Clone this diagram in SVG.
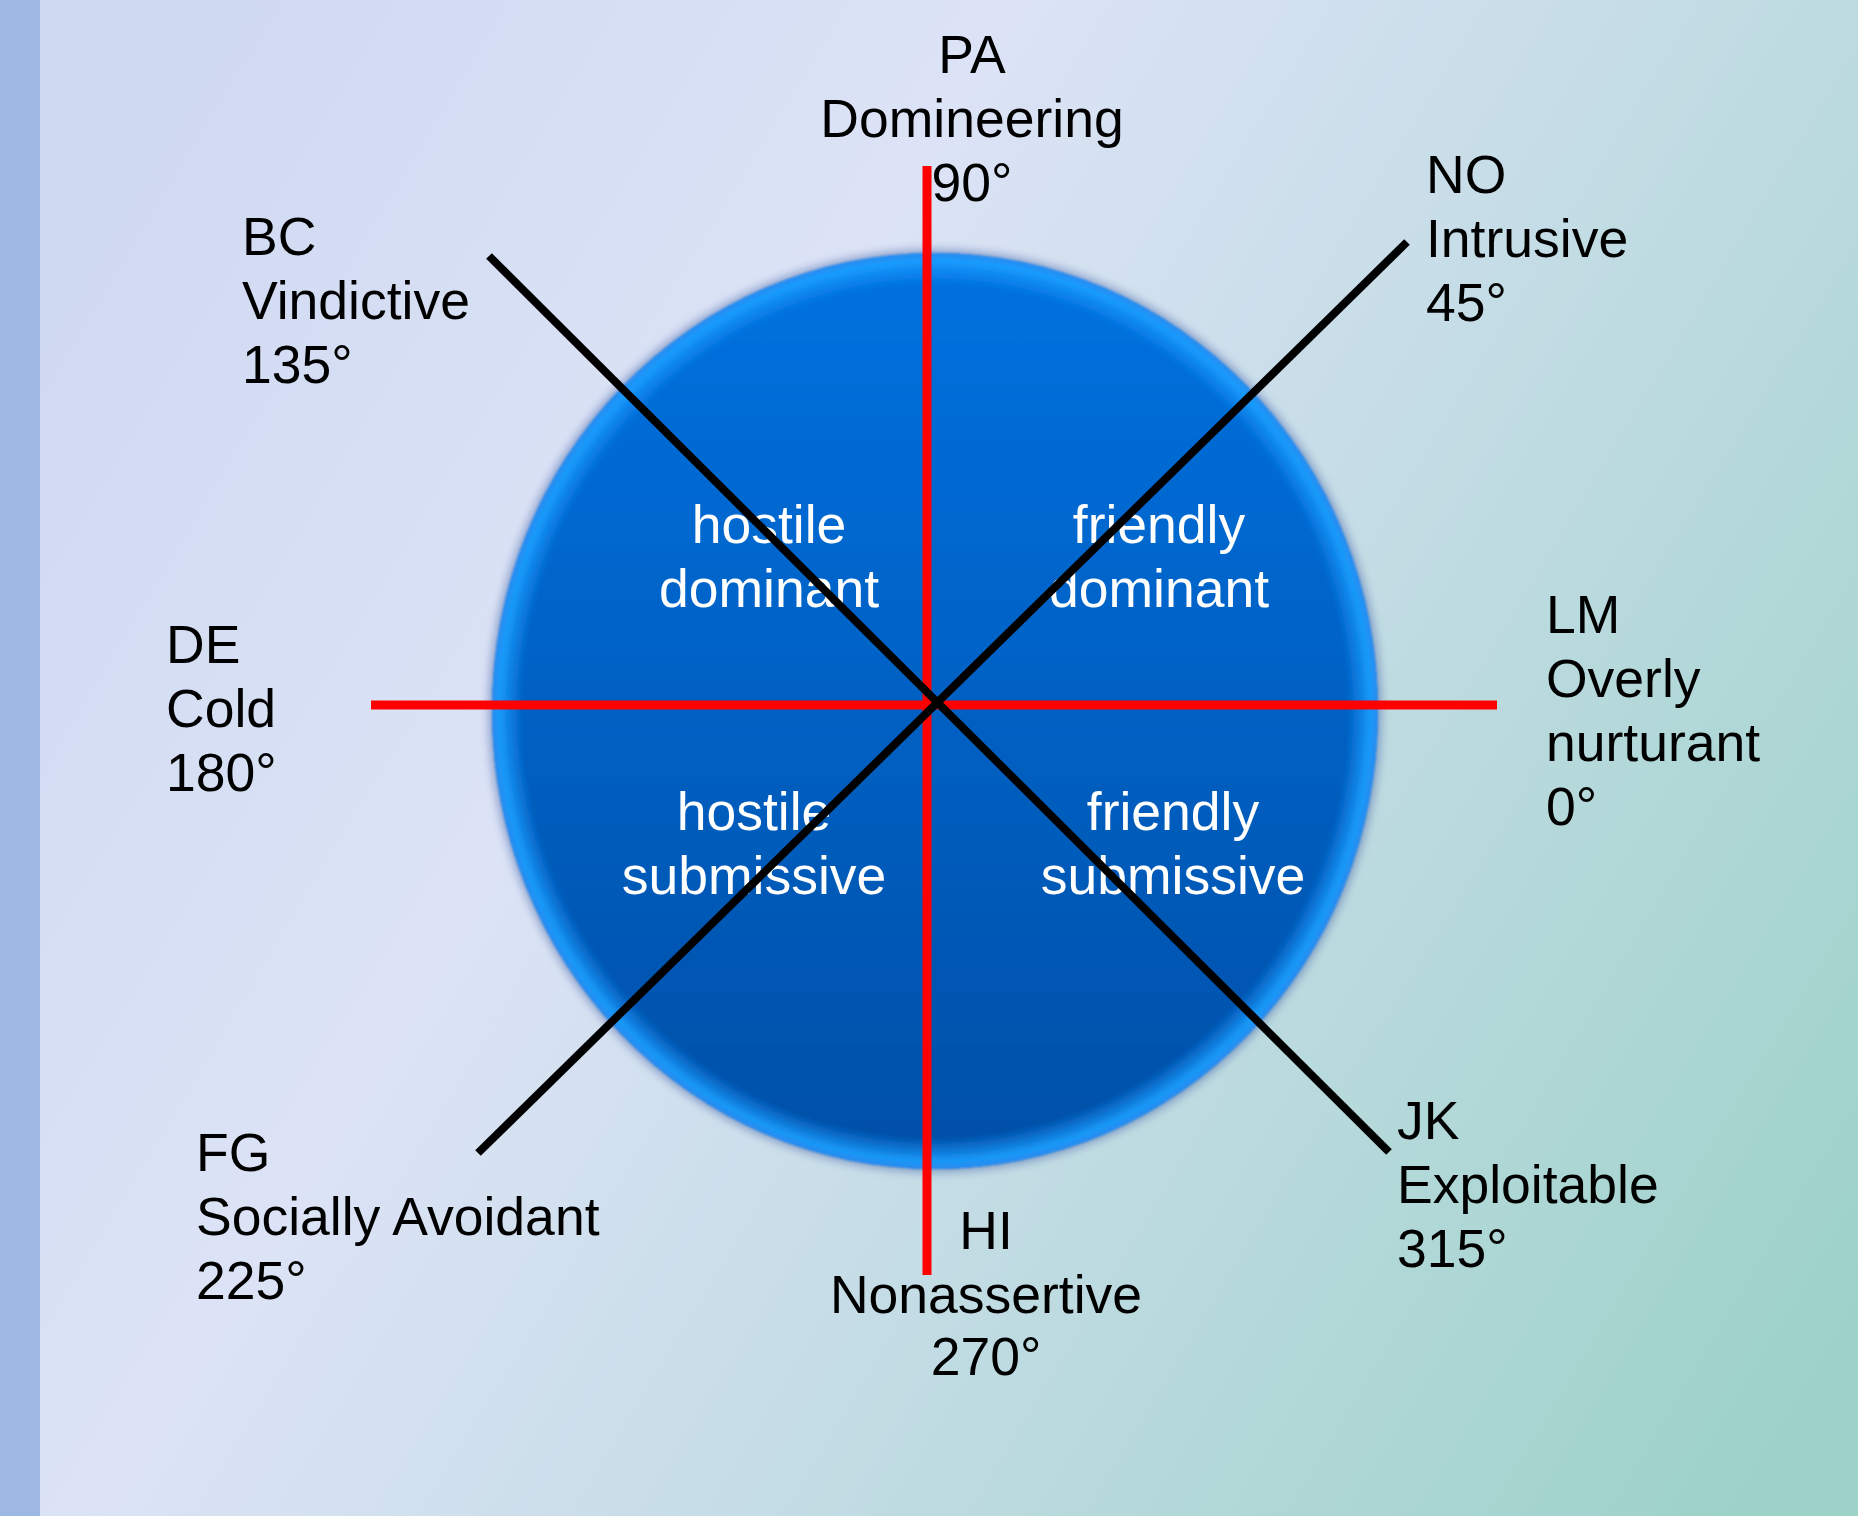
<svg xmlns="http://www.w3.org/2000/svg" width="1858" height="1516" viewBox="0 0 1858 1516">
  <defs>
    <linearGradient id="bg" gradientUnits="userSpaceOnUse" x1="40" y1="250" x2="1858" y2="1350">
      <stop offset="0" stop-color="#CFD9F1"/>
      <stop offset="0.33" stop-color="#DCE3F6"/>
      <stop offset="0.58" stop-color="#C6DDE7"/>
      <stop offset="1" stop-color="#9CD2C8"/>
    </linearGradient>
    <linearGradient id="disc" x1="0" y1="0" x2="0" y2="1">
      <stop offset="0" stop-color="#0072E0"/>
      <stop offset="1" stop-color="#004FA6"/>
    </linearGradient>
    <radialGradient id="rim" cx="0.5" cy="0.5" r="0.5">
      <stop offset="0.93" stop-color="#1A95FF" stop-opacity="0"/>
      <stop offset="0.982" stop-color="#1AA0FF" stop-opacity="0.9"/>
      <stop offset="1" stop-color="#2A8AF0" stop-opacity="1"/>
    </radialGradient>
    <filter id="halo" x="-10%" y="-10%" width="120%" height="120%">
      <feGaussianBlur stdDeviation="4.5"/>
    </filter>
    <filter id="soft" x="-5%" y="-5%" width="110%" height="110%">
      <feGaussianBlur stdDeviation="1.2"/>
    </filter>
    <style>
      .lbl { font-family: "Liberation Sans", Arial, sans-serif; font-size: 53.5px; fill: #000000; }
      .inner { font-family: "Liberation Sans", Arial, sans-serif; font-size: 53.5px; fill: #FFFFFF; text-anchor: middle; }
      .mid { text-anchor: middle; }
      .red { stroke: #FF0000; stroke-width: 9; }
      .blk { stroke: #000000; stroke-width: 8; }
    </style>
  </defs>

  <rect x="0" y="0" width="1858" height="1516" fill="url(#bg)"/>
  <rect x="0" y="0" width="40" height="1516" fill="#9DB8E2"/>

  <g id="circle">
    <ellipse cx="935" cy="711" rx="447" ry="462" fill="#5A74B0" opacity="0.55" filter="url(#halo)"/>
    <g filter="url(#soft)">
      <ellipse cx="935" cy="711" rx="443" ry="458" fill="url(#disc)"/>
      <ellipse cx="935" cy="711" rx="443" ry="458" fill="url(#rim)"/>
    </g>
  </g>

  <g id="quadrant-labels">
    <g id="hostile-dominant">
      <text class="inner" x="769" y="543">hostile</text>
      <text class="inner" x="769" y="607">dominant</text>
    </g>
    <g id="friendly-dominant">
      <text class="inner" x="1159" y="543">friendly</text>
      <text class="inner" x="1159" y="607">dominant</text>
    </g>
    <g id="hostile-submissive">
      <text class="inner" x="754" y="830">hostile</text>
      <text class="inner" x="754" y="894">submissive</text>
    </g>
    <g id="friendly-submissive">
      <text class="inner" x="1173" y="830">friendly</text>
      <text class="inner" x="1173" y="894">submissive</text>
    </g>
  </g>

  <g id="connectors">
    <line class="red" x1="927" y1="166" x2="927" y2="1275"/>
    <line class="red" x1="371" y1="705" x2="1497" y2="705"/>
    <line class="blk" x1="489" y1="256" x2="1389" y2="1152"/>
    <line class="blk" x1="1407" y1="242" x2="478" y2="1153"/>
  </g>

  <g id="PA">
    <text class="lbl mid" x="972" y="73">PA</text>
    <text class="lbl mid" x="972" y="137">Domineering</text>
    <text class="lbl mid" x="972" y="201">90°</text>
  </g>
  <g id="NO">
    <text class="lbl" x="1426" y="193">NO</text>
    <text class="lbl" x="1426" y="257">Intrusive</text>
    <text class="lbl" x="1426" y="321">45°</text>
  </g>
  <g id="BC">
    <text class="lbl" x="242" y="255">BC</text>
    <text class="lbl" x="242" y="319">Vindictive</text>
    <text class="lbl" x="242" y="383">135°</text>
  </g>
  <g id="DE">
    <text class="lbl" x="166" y="663">DE</text>
    <text class="lbl" x="166" y="727">Cold</text>
    <text class="lbl" x="166" y="791">180°</text>
  </g>
  <g id="LM">
    <text class="lbl" x="1546" y="633">LM</text>
    <text class="lbl" x="1546" y="697">Overly</text>
    <text class="lbl" x="1546" y="761">nurturant</text>
    <text class="lbl" x="1546" y="825">0°</text>
  </g>
  <g id="FG">
    <text class="lbl" x="196" y="1171">FG</text>
    <text class="lbl" x="196" y="1235">Socially Avoidant</text>
    <text class="lbl" x="196" y="1299">225°</text>
  </g>
  <g id="HI">
    <text class="lbl mid" x="986" y="1249">HI</text>
    <text class="lbl mid" x="986" y="1313">Nonassertive</text>
    <text class="lbl mid" x="986" y="1375">270°</text>
  </g>
  <g id="JK">
    <text class="lbl" x="1397" y="1139">JK</text>
    <text class="lbl" x="1397" y="1203">Exploitable</text>
    <text class="lbl" x="1397" y="1267">315°</text>
  </g>
</svg>
